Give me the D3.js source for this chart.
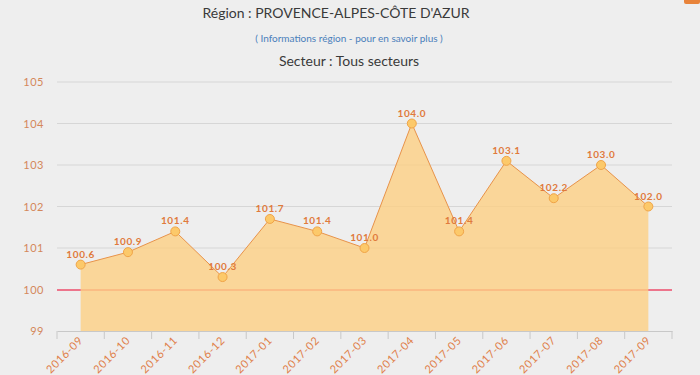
<!DOCTYPE html>
<html>
<head>
<meta charset="utf-8">
<script src="https://cdnjs.cloudflare.com/ajax/libs/d3/7.8.5/d3.min.js"></script>
<style>
  body { margin: 0; background: #eeeeee; }
  svg { display: block; font-family: "Lato", "Open Sans", sans-serif; }
</style>
</head>
<body>
<svg id="chart" width="700" height="375"></svg>
<script>
// data
let months = ["2016-09", "2016-10", "2016-11", "2016-12", "2017-01", "2017-02", "2017-03",
              "2017-04", "2017-05", "2017-06", "2017-07", "2017-08", "2017-09"];
let values = [100.6, 100.9, 101.4, 100.3, 101.7, 101.4, 101.0, 104.0, 101.4, 103.1, 102.2, 103.0, 102.0];
let yTicks = [99, 100, 101, 102, 103, 104, 105];
let refValue = 100;

let chart = d3.select("#chart");
let data = months.map(function(m, i) { return { month: m, value: values[i] }; });

// scales
let x = d3.scaleBand()
    .domain(months)
    .range([57, 672]);
let cx = function(d) { return x(d.month) + x.bandwidth() / 2; };

let y = d3.scaleLinear()
    .domain([99, 105])
    .range([331, 82]);

// titles
chart.append("rect")
    .attr("x", 684).attr("y", -4).attr("width", 16).attr("height", 8)
    .attr("rx", 2)
    .style("fill", "#e8833a");

chart.append("text")
    .text("Région : PROVENCE-ALPES-CÔTE D'AZUR")
    .attr("x", 336).attr("y", 18)
    .style("text-anchor", "middle")
    .style("font-size", "14px")
    .style("fill", "#3a3a3a");

chart.append("text")
    .text("( Informations région - pour en savoir plus )")
    .attr("x", 349).attr("y", 42)
    .style("text-anchor", "middle")
    .style("font-size", "10px")
    .style("fill", "#4a80bb");

chart.append("text")
    .text("Secteur : Tous secteurs")
    .attr("x", 349).attr("y", 66)
    .style("text-anchor", "middle")
    .style("font-size", "14px")
    .style("fill", "#3a3a3a");

// grid lines
chart.selectAll("grid")
    .data(yTicks.filter(function(t) { return t !== 99 && t !== refValue; }))
    .enter()
    .append("line")
    .attr("x1", 57).attr("x2", 672)
    .attr("y1", function(d) { return y(d); })
    .attr("y2", function(d) { return y(d); })
    .style("stroke", "#d6d6d6")
    .style("stroke-width", 1);

// y labels
chart.selectAll("ylabels")
    .data(yTicks)
    .enter()
    .append("text")
    .text(function(d) { return d; })
    .attr("x", 44)
    .attr("y", function(d) { return y(d) + 4; })
    .style("text-anchor", "end")
    .style("font-size", "11px")
    .style("letter-spacing", "0.5px")
    .style("fill", "#d4875a");

// reference line at 100
chart.append("line")
    .attr("x1", 57).attr("x2", 672)
    .attr("y1", y(refValue) + 0.5).attr("y2", y(refValue) + 0.5)
    .style("stroke", "#ec4d6b")
    .style("stroke-width", 1.5);

// area
let area = d3.area()
    .x(cx)
    .y0(y(99))
    .y1(function(d) { return y(d.value); });

chart.append("path")
    .datum(data)
    .attr("d", area)
    .style("fill", "#fdd083")
    .style("opacity", 0.8);

let line = d3.line()
    .x(cx)
    .y(function(d) { return y(d.value); });

chart.append("path")
    .datum(data)
    .attr("d", line)
    .style("fill", "none")
    .style("stroke", "#e8934a")
    .style("stroke-width", 1);

// x axis
let xAxis = d3.axisBottom(x)
    .tickSize(0)
    .tickFormat("");
chart.append("g")
    .attr("transform", "translate(0,331)")
    .call(xAxis)
    .call(function(g) { g.select(".domain").style("stroke", "#c8c8c8"); });

chart.selectAll("xticks")
    .data(months.concat(["end"]))
    .enter()
    .append("line")
    .attr("x1", function(d, i) { return 57 + i * x.step(); })
    .attr("x2", function(d, i) { return 57 + i * x.step(); })
    .attr("y1", 331).attr("y2", 339)
    .style("stroke", "#c8c8c8");

chart.selectAll("xlabels")
    .data(data)
    .enter()
    .append("text")
    .text(function(d) { return d.month; })
    .attr("transform", function(d) { return "translate(" + (cx(d) + 3) + ",341) rotate(-45)"; })
    .style("text-anchor", "end")
    .style("font-size", "11px")
    .style("letter-spacing", "0.6px")
    .style("fill", "#e0804a");

// markers
chart.selectAll("dots")
    .data(data)
    .enter()
    .append("circle")
    .attr("cx", cx)
    .attr("cy", function(d) { return y(d.value); })
    .attr("r", 4.5)
    .style("fill", "#fcc96a")
    .style("stroke", "#f0a448")
    .style("stroke-width", 1);

// value labels
chart.selectAll("vlabels")
    .data(data)
    .enter()
    .append("text")
    .text(function(d) { return d3.format(".1f")(d.value); })
    .attr("x", cx)
    .attr("y", function(d) { return y(d.value) - 7; })
    .style("text-anchor", "middle")
    .style("font-size", "10px")
    .style("font-weight", "bold")
    .style("letter-spacing", "0.6px")
    .style("fill", "#e07a3c");
</script>
</body>
</html>
